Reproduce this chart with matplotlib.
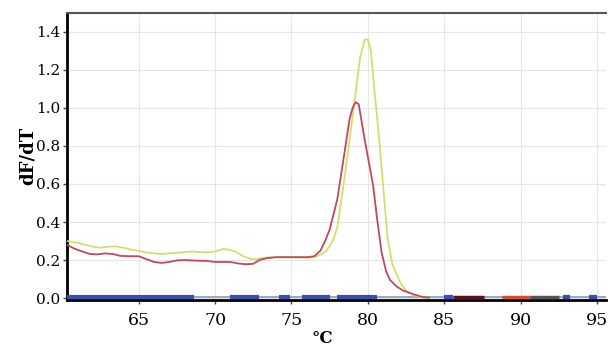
import matplotlib.pyplot as plt

plt.switch_backend("Agg")

# melt curve, sample 1 (yellow)
temp_a = [60.3, 61.0, 61.5, 62.0, 62.5, 63.0, 63.5, 64.0, 64.5, 65.0, 65.5, 66.0,
          66.5, 67.0, 67.5, 68.0, 68.5, 69.0, 69.5, 70.0, 70.5, 70.9, 71.3, 71.8,
          72.3, 72.7, 73.1, 73.7, 74.5, 75.5, 76.2, 76.6, 77.0, 77.3, 77.7, 78.0,
          78.4, 78.8, 79.2, 79.5, 79.8, 80.0, 80.2, 80.4, 80.7, 81.0, 81.3, 81.6,
          81.9, 82.2, 82.5, 83.0, 83.5, 84.0]
dfdt_a = [0.30, 0.29, 0.28, 0.27, 0.265, 0.27, 0.272, 0.265, 0.255, 0.248, 0.24, 0.235,
          0.232, 0.235, 0.238, 0.242, 0.245, 0.242, 0.24, 0.245, 0.258, 0.255, 0.245, 0.222,
          0.207, 0.204, 0.212, 0.215, 0.215, 0.215, 0.212, 0.218, 0.232, 0.25, 0.30, 0.37,
          0.59, 0.83, 1.08, 1.27, 1.36, 1.36, 1.30, 1.12, 0.87, 0.59, 0.31, 0.18,
          0.12, 0.07, 0.04, 0.015, 0.005, 0.003]

# melt curve, sample 2 (red)
temp_b = [60.3, 60.8, 61.3, 61.8, 62.3, 62.8, 63.3, 63.8, 64.5, 65.0, 65.5, 66.0,
          66.5, 67.0, 67.5, 68.0, 68.5, 69.0, 69.5, 70.0, 70.5, 71.0, 71.5, 72.0,
          72.5, 72.9, 73.4, 74.0, 75.0, 76.0, 76.5, 76.9, 77.2, 77.5, 78.0, 78.5,
          78.8, 79.0, 79.2, 79.4, 79.8, 80.1, 80.35, 80.6, 80.9, 81.2, 81.45, 81.9,
          82.3, 82.8, 83.2, 83.6, 84.0]
dfdt_b = [0.28, 0.26, 0.245, 0.232, 0.23, 0.235, 0.232, 0.222, 0.22, 0.22, 0.205, 0.19,
          0.185, 0.19, 0.198, 0.20, 0.198, 0.196, 0.195, 0.19, 0.19, 0.19, 0.182, 0.178,
          0.18, 0.20, 0.21, 0.215, 0.215, 0.215, 0.22, 0.25, 0.30, 0.36, 0.52, 0.78,
          0.94, 1.00, 1.03, 1.02, 0.83, 0.70, 0.59, 0.42, 0.24, 0.14, 0.095, 0.06,
          0.04, 0.025, 0.015, 0.005, 0.003]

# negative control: flat trace at zero, drawn as broken segments
neg_start = [60.3, 71.0, 74.2, 75.7, 78.0, 85.0, 92.8, 94.5]
neg_end = [68.6, 72.9, 74.9, 77.5, 80.6, 85.6, 93.2, 95.0]

fig = plt.figure(figsize=(6.08, 3.48), dpi=100)
ax = fig.add_axes([0.110, 0.138, 0.887, 0.825])

ax.plot(temp_a, dfdt_a, color="#d5de6c", lw=1.3, zorder=3)
ax.plot(temp_b, dfdt_b, color="#c2485c", lw=1.3, zorder=4)
ax.axhline(0.004, color="#8a94c8", lw=1.2, zorder=2)
ax.hlines([0.006] * len(neg_start), neg_start, neg_end, color="#3c4db0", lw=3, zorder=5)
ax.hlines(0.004, 85.6, 87.6, color="#5a1020", lw=2.5, zorder=5)
ax.hlines(0.004, 88.8, 90.6, color="#d05030", lw=2.5, zorder=5)
ax.hlines(0.004, 90.6, 92.5, color="#555555", lw=2.5, zorder=5)

ax.set_xlim(60.3, 95.6)
ax.set_ylim(-0.01, 1.5)
ax.set_xticks([65, 70, 75, 80, 85, 90, 95])
ax.set_yticks([0.0, 0.2, 0.4, 0.6, 0.8, 1.0, 1.2, 1.4])
ax.set_yticklabels(["0.0", "0.2", "0.4", "0.6", "0.8", "1.0", "1.2", "1.4"])
ax.grid(True, color="#e4e6ea", lw=0.8)
ax.set_axisbelow(True)

for lab in ax.get_xticklabels():
    lab.set_fontfamily("DejaVu Serif")
    lab.set_fontsize(12.5)
for lab in ax.get_yticklabels():
    lab.set_fontfamily("DejaVu Serif")
    lab.set_fontsize(11)
ax.tick_params(axis="both", length=3, width=1, color="#444444", pad=2)
ax.tick_params(axis="x", pad=6)

ax.spines["left"].set_linewidth(2)
ax.spines["bottom"].set_linewidth(2)
ax.spines["top"].set_linewidth(1.5)
ax.spines["top"].set_color("#555555")
ax.spines["right"].set_visible(False)

ax.set_ylabel("dF/dT", fontfamily="DejaVu Serif", fontweight="bold", fontsize=13, labelpad=-1)
ax.set_xlabel("°C", fontfamily="DejaVu Serif", fontweight="bold", fontsize=12)
ax.xaxis.set_label_coords(0.473, -0.105)
ax.xaxis.label.set_va("top")

fig.savefig("out.png", dpi=100)
